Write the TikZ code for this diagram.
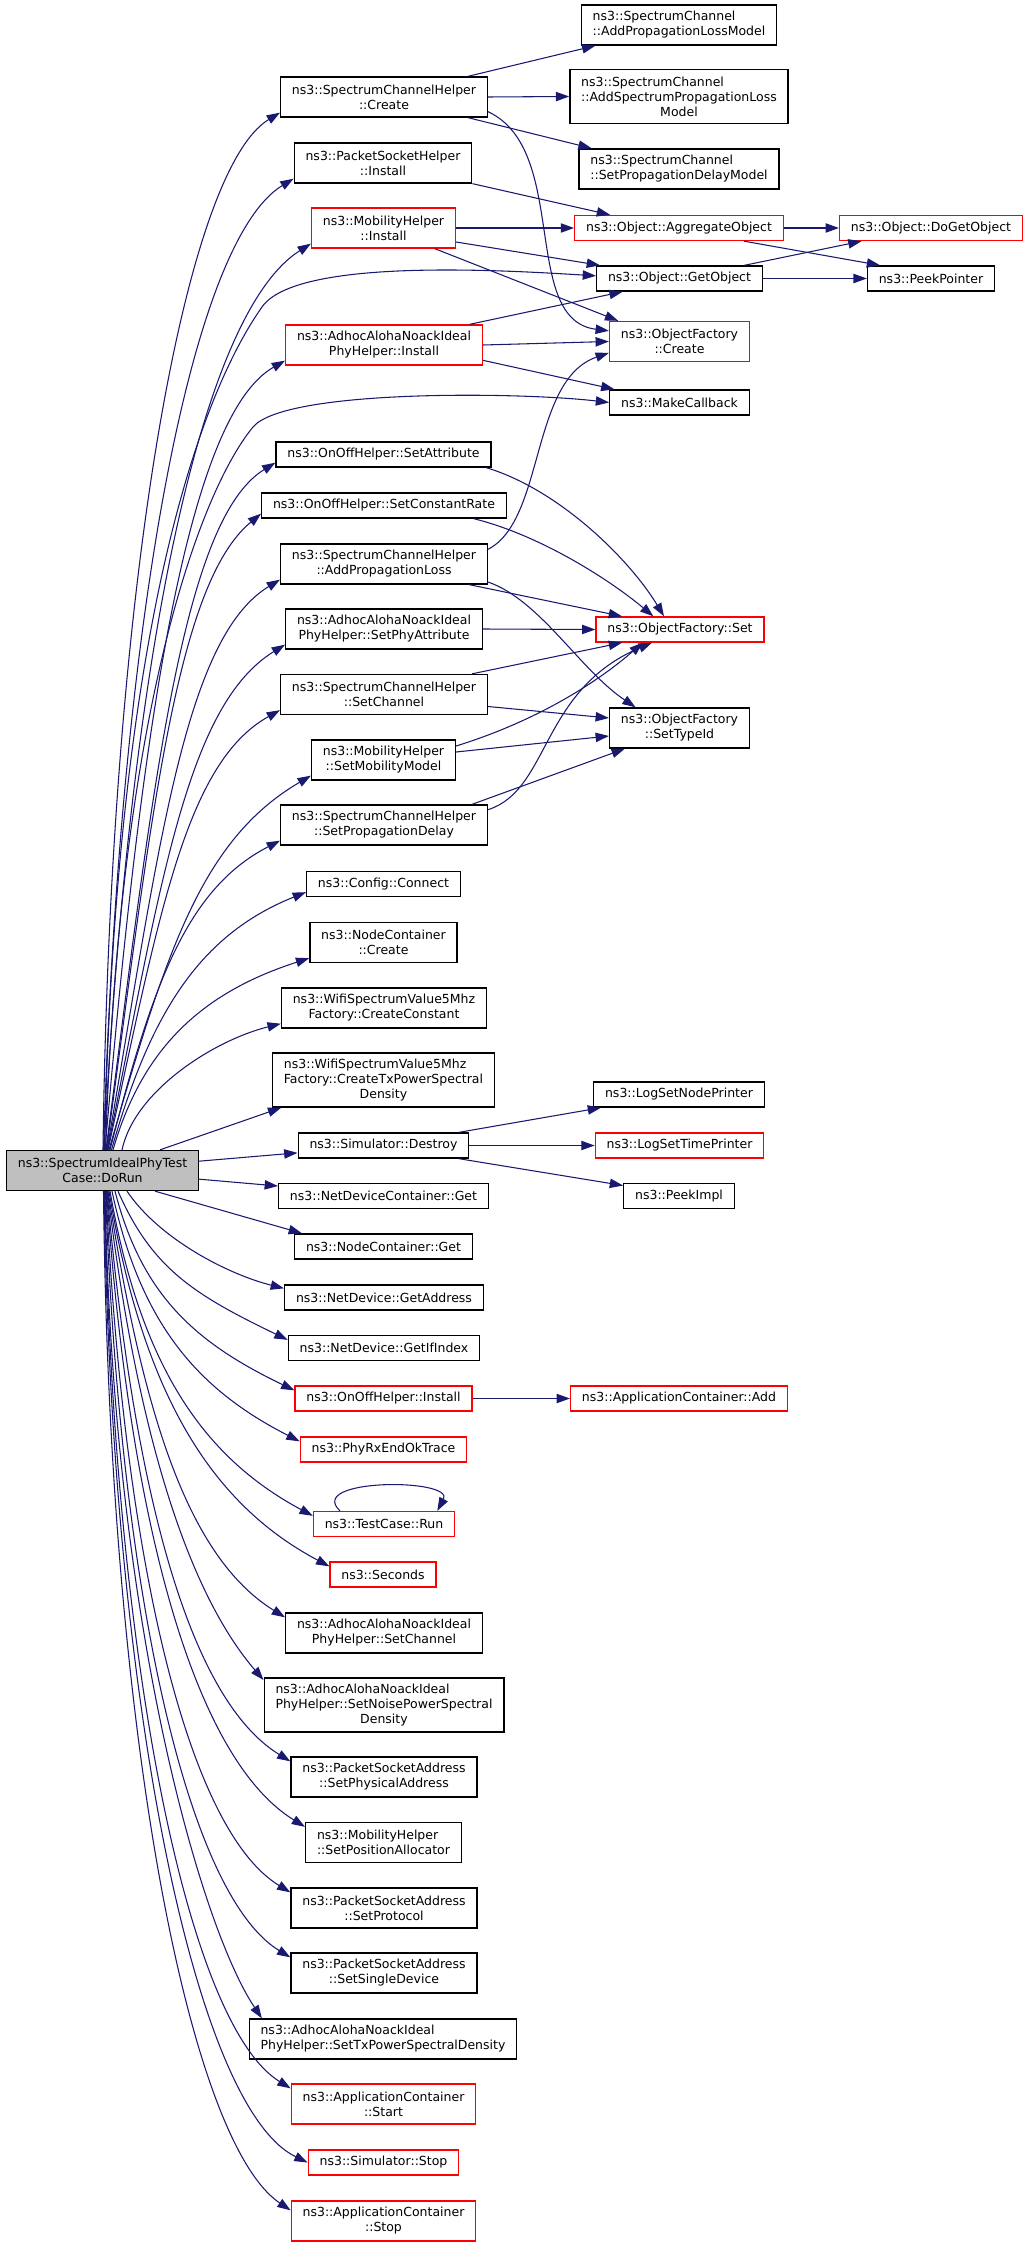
\documentclass[tikz,border=0pt]{standalone}
\usepackage{fontspec}
\setmainfont{DejaVu Sans}
\usetikzlibrary{arrows.meta,calc}
\definecolor{edgeblue}{HTML}{191970}
\definecolor{boxgray}{HTML}{BFBFBF}
\newcommand{\firstl}[2]{\rlap{#1}\phantom{#2}}
\begin{document}
\begin{tikzpicture}[x=0.75pt,y=-0.75pt,
fn/.style={draw=black,rectangle,line width=1pt,font=\fontsize{9.375}{11.25}\selectfont,
  inner xsep=8.5pt,inner ysep=1pt,minimum height=18.75pt,align=center},
two/.style={minimum height=30pt},
three/.style={minimum height=40.5pt},
miss/.style={draw=red},
call/.style={draw=edgeblue,line width=0.8pt,-{Triangle[length=10pt,width=7pt]}}]
\useasboundingbox (0,0) rectangle (1029,2247);
\node[fn,two] (sccreate) at (384,97) {ns3::SpectrumChannelHelper\\::Create};
\node[fn,two] (aplm) at (679,25) {\firstl{ns3::SpectrumChannel}{::AddPropagationLossModel}\\::AddPropagationLossModel};
\node[fn,three] (asplm) at (679,96.5) {\firstl{ns3::SpectrumChannel}{::AddSpectrumPropagationLoss}\\::AddSpectrumPropagationLoss\\Model};
\node[fn,two] (spdm) at (679,169) {\firstl{ns3::SpectrumChannel}{::SetPropagationDelayModel}\\::SetPropagationDelayModel};
\node[fn,two] (pshinst) at (383,163) {ns3::PacketSocketHelper\\::Install};
\node[fn,two,miss] (mhinst) at (383.5,228) {ns3::MobilityHelper\\::Install};
\node[fn,miss] (aggobj) at (679,228) {ns3::Object::AggregateObject};
\node[fn,miss] (dogetobj) at (931,228) {ns3::Object::DoGetObject};
\node[fn] (getobj) at (679.5,278.5) {ns3::Object::GetObject};
\node[fn] (peekptr) at (931,278.5) {ns3::PeekPointer};
\node[fn,two,miss] (aaniinst) at (384,345) {ns3::AdhocAlohaNoackIdeal\\PhyHelper::Install};
\node[fn,two,miss] (ofcreate) at (679.5,341.5) {ns3::ObjectFactory\\::Create};
\node[fn] (mkcb) at (679.5,402.5) {ns3::MakeCallback};
\node[fn] (setattr) at (383.5,454.5) {ns3::OnOffHelper::SetAttribute};
\node[fn] (setcrate) at (384,505.5) {ns3::OnOffHelper::SetConstantRate};
\node[fn,two] (addploss) at (384,564) {ns3::SpectrumChannelHelper\\::AddPropagationLoss};
\node[fn,two] (setphy) at (384,629) {ns3::AdhocAlohaNoackIdeal\\PhyHelper::SetPhyAttribute};
\node[fn,miss] (ofset) at (680,629.5) {ns3::ObjectFactory::Set};
\node[fn,two] (scsetch) at (384,694.5) {ns3::SpectrumChannelHelper\\::SetChannel};
\node[fn,two] (settype) at (679.5,728) {ns3::ObjectFactory\\::SetTypeId};
\node[fn,two] (setmob) at (383.5,760) {ns3::MobilityHelper\\::SetMobilityModel};
\node[fn,two] (setpdel) at (384,825) {ns3::SpectrumChannelHelper\\::SetPropagationDelay};
\node[fn] (cfgconn) at (383.5,884) {ns3::Config::Connect};
\node[fn,two] (nccreate) at (383.5,942.5) {ns3::NodeContainer\\::Create};
\node[fn,two] (mkconst) at (384,1008) {ns3::WifiSpectrumValue5Mhz\\Factory::CreateConstant};
\node[fn,three] (mktxpsd) at (383.5,1080) {\firstl{ns3::WifiSpectrumValue5Mhz}{Factory::CreateTxPowerSpectral}\\Factory::CreateTxPowerSpectral\\Density};
\node[fn] (lognode) at (679,1094.5) {ns3::LogSetNodePrinter};
\node[fn] (destroy) at (383.5,1145.5) {ns3::Simulator::Destroy};
\node[fn,miss] (logtime) at (679.5,1145.5) {ns3::LogSetTimePrinter};
\node[fn,two,fill=boxgray] (dorun) at (102.5,1170.5) {ns3::SpectrumIdealPhyTest\\Case::DoRun};
\node[fn] (peekimpl) at (679,1196) {ns3::PeekImpl};
\node[fn] (ndcget) at (383.5,1196) {ns3::NetDeviceContainer::Get};
\node[fn] (ncget) at (383.5,1246.5) {ns3::NodeContainer::Get};
\node[fn] (getaddr) at (384,1297.5) {ns3::NetDevice::GetAddress};
\node[fn] (getifidx) at (384,1348) {ns3::NetDevice::GetIfIndex};
\node[fn,miss] (ooinst) at (383.5,1398.5) {ns3::OnOffHelper::Install};
\node[fn,miss] (appadd) at (679,1398.5) {ns3::ApplicationContainer::Add};
\node[fn,miss] (phyrx) at (383.5,1449.5) {ns3::PhyRxEndOkTrace};
\node[fn,miss] (tcrun) at (384,1524) {ns3::TestCase::Run};
\node[fn,miss] (secs) at (383,1574.5) {ns3::Seconds};
\node[fn,two] (aanisetch) at (384,1633) {ns3::AdhocAlohaNoackIdeal\\PhyHelper::SetChannel};
\node[fn,three] (setnoise) at (384,1705) {\firstl{ns3::AdhocAlohaNoackIdeal}{PhyHelper::SetNoisePowerSpectral}\\PhyHelper::SetNoisePowerSpectral\\Density};
\node[fn,two] (setphys) at (384,1777) {ns3::PacketSocketAddress\\::SetPhysicalAddress};
\node[fn,two] (setpos) at (383.5,1842.5) {\firstl{ns3::MobilityHelper}{::SetPositionAllocator}\\::SetPositionAllocator};
\node[fn,two] (setproto) at (384,1908) {ns3::PacketSocketAddress\\::SetProtocol};
\node[fn,two] (setsingle) at (384,1973) {ns3::PacketSocketAddress\\::SetSingleDevice};
\node[fn,two] (settxpsd) at (383,2039) {\firstl{ns3::AdhocAlohaNoackIdeal}{PhyHelper::SetTxPowerSpectralDensity}\\PhyHelper::SetTxPowerSpectralDensity};
\node[fn,two,miss] (appstart) at (383.5,2104) {ns3::ApplicationContainer\\::Start};
\node[fn,miss] (simstop) at (383.5,2162.5) {ns3::Simulator::Stop};
\node[fn,two,miss] (appstop) at (383.5,2221) {ns3::ApplicationContainer\\::Stop};

\draw[call] ($(dorun.north)+(0.5,0)$) .. controls (110,600) and (182,172) .. ([yshift=3.75pt]sccreate.south west);
\draw[call] ($(dorun.north)+(1,0)$) .. controls (119,635) and (188,243) .. ([yshift=3.75pt]pshinst.south west);
\draw[call] ($(dorun.north)+(1.5,0)$) .. controls (129,670) and (198,315) .. ([yshift=3.75pt]mhinst.south west);
\draw[call] ($(dorun.north)+(2,0)$) .. controls (115,650) and (193,405) .. (262,307) .. controls (296,258) and (500,270) .. ([yshift=2pt]getobj.west);
\draw[call] ($(dorun.north)+(2.5,0)$) .. controls (141,732) and (186,417) .. ([yshift=3.75pt]aaniinst.south west);
\draw[call] ($(dorun.north)+(3,0)$) .. controls (120,700) and (202,489) .. (253,427) .. controls (285,389) and (520,392) .. (mkcb.west);
\draw[call] ($(dorun.north)+(3.5,0)$) .. controls (153,786) and (182,520) .. ([yshift=3.75pt]setattr.south west);
\draw[call] ($(dorun.north)+(4,0)$) .. controls (152,813) and (176,584) .. ([yshift=3.75pt]setcrate.south west);
\draw[call] ($(dorun.north)+(4.5,0)$) .. controls (159,848) and (184,638) .. ([yshift=3.75pt]addploss.south west);
\draw[call] ($(dorun.north)+(5,0)$) .. controls (161,882) and (187,705) .. ([yshift=3.75pt]setphy.south west);
\draw[call] ($(dorun.north)+(5.5,0)$) .. controls (159,917) and (185,763) .. ([yshift=3.75pt]scsetch.south west);
\draw[call] ($(dorun.north)+(6.5,0)$) .. controls (166,952) and (201,840) .. ([yshift=3.75pt]setmob.south west);
\draw[call] ($(dorun.north)+(7.5,0)$) .. controls (152,986) and (186,889) .. ([yshift=3.75pt]setpdel.south west);
\draw[call] ($(dorun.north)+(9,0)$) .. controls (150,1014) and (199,935) .. ([yshift=3.75pt]cfgconn.south west);
\draw[call] ($(dorun.north)+(10.5,0)$) .. controls (142,1049) and (201,993) .. ([yshift=3.75pt]nccreate.south west);
\draw[call] ($(dorun.north)+(19.5,0)$) .. controls (135,1090) and (215,1040) .. ([yshift=3.75pt]mkconst.south west);
\draw[call] ($(dorun.north)+(57.5,0)$) -- ([xshift=7pt]mktxpsd.south west);
\draw[call] ([yshift=7pt]dorun.east) -- ([yshift=-5.5pt]destroy.west);
\draw[call] ([yshift=-6.5pt]dorun.east) -- ([yshift=7.5pt]ndcget.west);
\draw[call] ($(dorun.south)+(52.5,0)$) -- ([xshift=6pt]ncget.north west);
\draw[call] ($(dorun.south)+(24.5,0)$) .. controls (160,1240) and (230,1275) .. ([yshift=-3pt]getaddr.north west);
\draw[call] ($(dorun.south)+(15.5,0)$) .. controls (152,1269) and (195,1295) .. ([yshift=-3.75pt]getifidx.north west);
\draw[call] ($(dorun.south)+(12.5,0)$) .. controls (142,1296) and (196,1343) .. ([yshift=-3.75pt]ooinst.north west);
\draw[call] ($(dorun.south)+(9.5,0)$) .. controls (140,1323) and (197,1389) .. ([yshift=-3.75pt]phyrx.north west);
\draw[call] ($(dorun.south)+(7.5,0)$) .. controls (140,1363) and (201,1456) .. ([yshift=-3.75pt]tcrun.north west);
\draw[call] ($(dorun.south)+(6.5,0)$) .. controls (142,1389) and (208,1502) .. ([yshift=-3.75pt]secs.north west);
\draw[call] ($(dorun.south)+(5.5,0)$) .. controls (143,1416) and (188,1557) .. ([yshift=-3.75pt]aanisetch.north west);
\draw[call] ($(dorun.south)+(5,0)$) .. controls (139,1450) and (193,1598) .. ([yshift=-2pt]setnoise.north west);
\draw[call] ($(dorun.south)+(4.5,0)$) .. controls (134,1493) and (189,1699) .. ([yshift=-3.75pt]setphys.north west);
\draw[call] ($(dorun.south)+(4,0)$) .. controls (130,1528) and (195,1759) .. ([yshift=-3.75pt]setpos.north west);
\draw[call] ($(dorun.south)+(3.5,0)$) .. controls (124,1563) and (188,1830) .. ([yshift=-3.75pt]setproto.north west);
\draw[call] ($(dorun.south)+(3,0)$) .. controls (120,1597) and (188,1895) .. ([yshift=-3.75pt]setsingle.north west);
\draw[call] ($(dorun.south)+(2.5,0)$) .. controls (113,1629) and (202,1929) .. ([xshift=10pt]settxpsd.north west);
\draw[call] ($(dorun.south)+(2,0)$) .. controls (114,1666) and (188,2025) .. ([yshift=-3.75pt]appstart.north west);
\draw[call] ($(dorun.south)+(1.5,0)$) .. controls (112,1706) and (195,2108) .. (simstop.west);
\draw[call] ($(dorun.south)+(1,0)$) .. controls (109,1731) and (188,2141) .. ([yshift=-7.5pt]appstop.north west);

\draw[call] ([xshift=-15pt]sccreate.north east) -- ([xshift=11pt]aplm.south west);
\draw[call] (sccreate.east) -- (asplm.west);
\draw[call] ([xshift=-15pt]sccreate.south east) -- ([xshift=10pt]spdm.north west);
\draw[call] ([yshift=4.5pt]sccreate.south east) .. controls (570,150) and (520,320) .. ([yshift=8pt]ofcreate.west);
\draw[call] (pshinst.south east) -- ([xshift=27pt]aggobj.north west);
\draw[call] (mhinst.east) -- (aggobj.west);
\draw[call] ([yshift=5pt]mhinst.south east) -- ([xshift=3pt]getobj.north west);
\draw[call] ([xshift=-16pt]mhinst.south east) -- ([xshift=7pt]ofcreate.north west);
\draw[call] (aggobj.east) -- (dogetobj.west);
\draw[call] ([xshift=-30pt]aggobj.south east) -- ([xshift=10pt]peekptr.north west);
\draw[call] ([xshift=-14pt]getobj.north east) -- ([xshift=17pt]dogetobj.south west);
\draw[call] (getobj.east) -- (peekptr.west);
\draw[call] ([xshift=-10pt]aaniinst.north east) -- ([xshift=20pt]getobj.south west);
\draw[call] (aaniinst.east) -- (ofcreate.west);
\draw[call] ([yshift=4pt]aaniinst.south east) -- ([xshift=4pt]mkcb.north west);
\draw[call] ([yshift=-4.5pt]addploss.north east) .. controls (545,520) and (530,380) .. ([yshift=7pt]ofcreate.south west);
\draw[call] ([xshift=-14pt]addploss.south east) -- ([xshift=20pt]ofset.north west);
\draw[call] ([yshift=2pt]addploss.south east) .. controls (540,600) and (580,670) .. ([xshift=20pt]settype.north west);
\draw[call] ([xshift=-4pt]setattr.south east) .. controls (560,490) and (630,560) .. ([xshift=-12pt]ofset.north);
\draw[call] ([xshift=-25pt]setcrate.south east) .. controls (540,535) and (610,580) .. ([xshift=-20pt]ofset.north);
\draw[call] (setphy.east) -- (ofset.west);
\draw[call] ([xshift=-12pt]scsetch.north east) -- ([xshift=20pt]ofset.south west);
\draw[call] ([yshift=-9pt]scsetch.east) -- ([yshift=7.5pt]settype.west);
\draw[call] ([yshift=10.5pt]setmob.east) .. controls (540,720) and (600,680) .. ([xshift=-28pt]ofset.south);
\draw[call] ([yshift=6pt]setmob.east) -- ([yshift=-6pt]settype.west);
\draw[call] ([yshift=-4pt]setpdel.north east) .. controls (550,790) and (540,690) .. ([xshift=-21pt]ofset.south);
\draw[call] ([xshift=-12pt]setpdel.north east) -- ([xshift=12pt]settype.south west);
\draw[call] ([xshift=-8pt]destroy.north east) -- ([xshift=6pt]lognode.south west);
\draw[call] (destroy.east) -- (logtime.west);
\draw[call] ([xshift=-8pt]destroy.south east) -- ([yshift=-2pt]peekimpl.north west);
\draw[call] (ooinst.east) -- (appadd.west);
\draw[call] ([xshift=-33pt]tcrun.north) .. controls (305,1478) and (455,1478) .. ([xshift=40pt]tcrun.north);
\end{tikzpicture}
\end{document}
